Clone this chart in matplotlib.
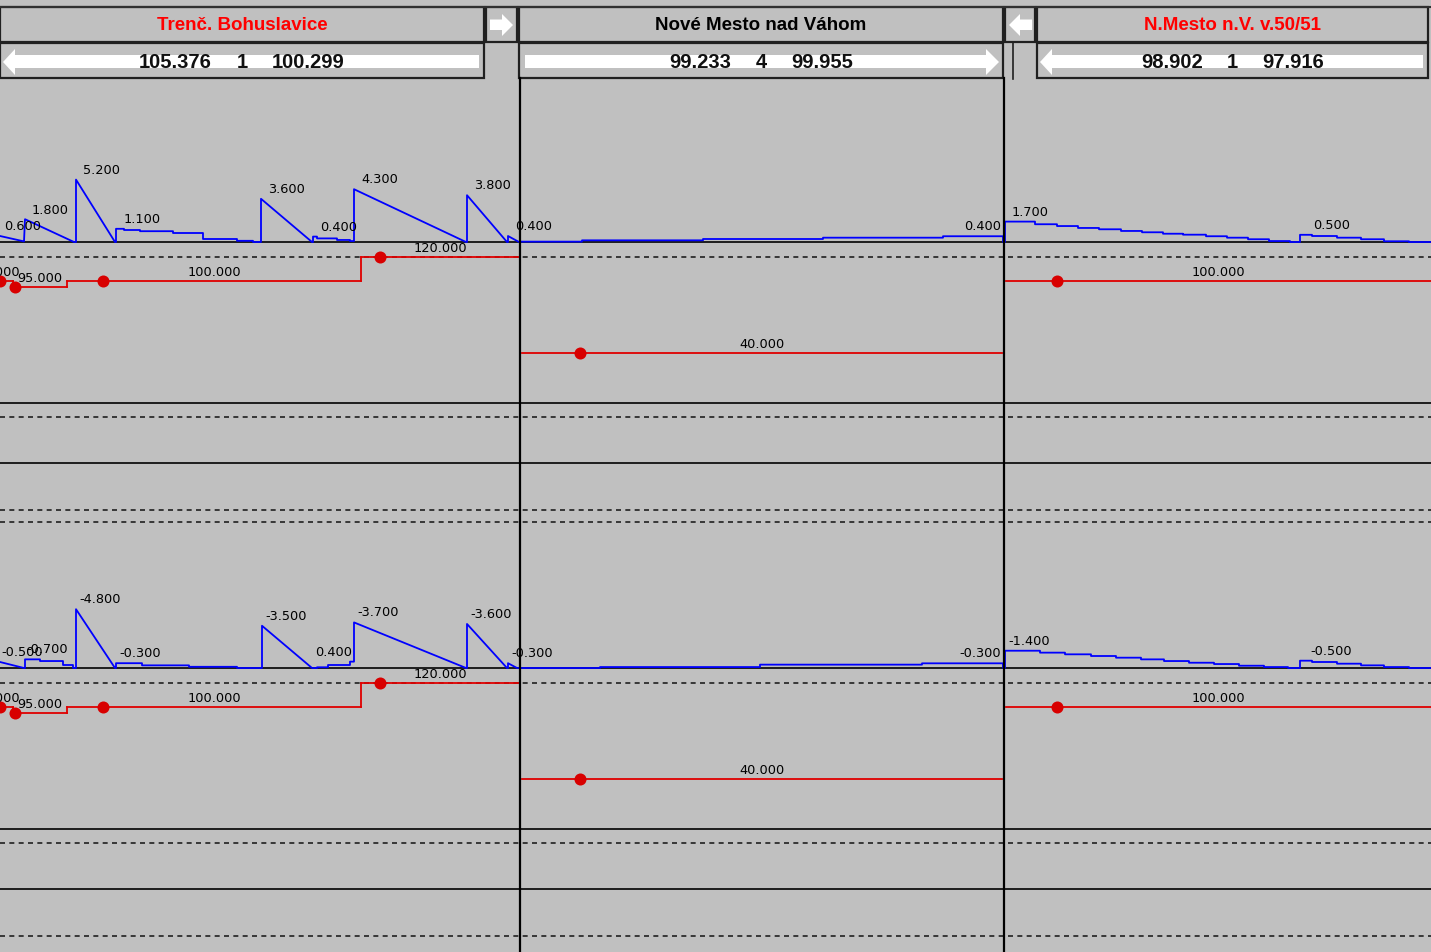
import matplotlib
matplotlib.use('Agg')
import matplotlib.pyplot as plt
from matplotlib.patches import Rectangle, Polygon
from matplotlib.transforms import Affine2D

# header: stations and km / track rows
stations = ['Trenč. Bohuslavice', 'Nové Mesto nad Váhom', 'N.Mesto n.V. v.50/51']
station_colors = ['#ff0000', '#000000', '#ff0000']
km_from = ['105.376', '99.233', '98.902']
track_no = ['1', '4', '1']
km_to = ['100.299', '99.955', '97.916']
arrow_dir = ['left', 'right', 'left']

# gradient profile, upper panel: pieces of (x, value), "s" = steps (edges, values)
up_pieces = [
    ('l', [0, 24, 25, 74, 76, 76, 115, 116], [0.5, 0.05, 1.9, 0, 0, 5.2, 0, 0]),
    ('s', [116, 124, 140, 173, 203, 237, 253, 261], [1.1, 1.0, 0.9, 0.75, 0.25, 0.1, 0]),
    ('l', [261, 261, 312, 313], [0, 3.6, 0, 0]),
    ('s', [313, 317, 337, 350, 354], [0.45, 0.3, 0.17, 0.08]),
    ('l', [354, 354, 466, 467, 467, 507, 508, 508, 519, 520], [0.08, 4.4, 0, 0, 3.9, 0, 0, 0.5, 0, 0]),
    ('s', [520, 582, 703, 823, 943, 1003], [0.03, 0.14, 0.25, 0.36, 0.48]),
    ('l', [1003, 1005], [0, 0]),
    ('s', [1005, 1035, 1057, 1078, 1099, 1121, 1142, 1163, 1183, 1206, 1227, 1248, 1269,
           1290, 1300, 1312, 1337, 1361, 1384, 1409, 1431],
     [1.7, 1.48, 1.33, 1.17, 1.06, 0.92, 0.81, 0.69, 0.61, 0.48, 0.36, 0.23, 0.08, 0,
      0.6, 0.5, 0.36, 0.23, 0.06, 0]),
]
up_lab_txt = ['0.600', '1.800', '5.200', '1.100', '3.600', '0.400', '4.300', '3.800',
              '0.400', '0.400', '1.700', '0.500']
up_lab_x = [-3, 25, 76, 117, 261, 313, 354, 467, 508, 1003, 1005, 1306]
up_lab_v = [0.5, 1.8, 5.2, 1.1, 3.6, 0.45, 4.4, 3.9, 0.5, 0.48, 1.7, 0.6]

# gradient profile, lower panel
lo_pieces = [
    ('l', [0, 24, 25], [0.5, 0, 0]),
    ('s', [25, 40, 63, 73], [0.72, 0.58, 0.25]),
    ('l', [73, 76, 76, 115, 116], [0, 0, 4.9, 0, 0]),
    ('s', [116, 142, 189, 237, 262], [0.4, 0.22, 0.1, 0]),
    ('l', [262, 262, 312], [0, 3.52, 0]),
    ('s', [312, 317, 328, 350, 354], [0, 0.06, 0.25, 0.53]),
    ('l', [354, 354, 466, 467, 467, 507, 508, 508, 517, 520], [0.53, 3.8, 0, 0, 3.67, 0, 0, 0.4, 0, 0]),
    ('s', [520, 600, 760, 922, 1003], [0, 0.08, 0.28, 0.39]),
    ('l', [1003, 1005], [0, 0]),
    ('s', [1005, 1040, 1065, 1091, 1116, 1141, 1164, 1189, 1214, 1239, 1264, 1288,
           1300, 1312, 1337, 1361, 1384, 1409, 1431],
     [1.44, 1.28, 1.14, 1.0, 0.86, 0.72, 0.58, 0.44, 0.33, 0.19, 0.08, 0,
      0.61, 0.5, 0.36, 0.22, 0.08, 0]),
]
lo_lab_txt = ['-0.500', '-0.700', '-4.800', '-0.300', '-3.500', '0.400', '-3.700', '-3.600',
              '-0.300', '-0.300', '-1.400', '-0.500']
lo_lab_x = [-2, 23, 76, 116, 262, 312, 354, 467, 508, 1003, 1005, 1307]
lo_lab_v = [0.5, 0.72, 4.9, 0.4, 3.52, 0.53, 3.8, 3.67, 0.4, 0.39, 1.44, 0.61]

# speed profile (same in both panels)
sp_start = [-26, 13, 67, 361, 522, 1006]
sp_end = [13, 67, 361, 520, 1002, 1431]
sp_val = [100, 95, 100, 120, 40, 100]
dot_x = [0, 15, 103, 380, 580, 1057]
dot_v = [100, 95, 100, 120, 40, 100]

BG = '#c0c0c0'
BLUE = '#0000ff'
RED = '#e00000'
SMALL = dict(family='DejaVu Sans', fontsize=9.3, color='#000000')


def expand(pieces):
    xs, vs = [], []
    for kind, a, b in pieces:
        if kind == 'l':
            xs += a
            vs += b
        else:
            for i, v in enumerate(b):
                xs += [a[i], a[i + 1]]
                vs += [v, v]
    return xs, vs


fig = plt.figure(figsize=(14.31, 9.52), dpi=100)
fig.patch.set_facecolor(BG)
ax = fig.add_axes([0, 0, 1, 1])
ax.set_facecolor(BG)
ax.set_xlim(0, 1431)
ax.set_ylim(952, 0)
ax.axis('off')

# header
ax.plot([0, 1431], [7, 7], color='#303030', lw=1.5)
boxes = [(0, 484), (519, 1003), (1037, 1428)]
for i, (x0, x1) in enumerate(boxes):
    c = (x0 + x1) / 2
    ax.add_patch(Rectangle((x0, 7), x1 - x0, 35, fc=BG, ec='#202020', lw=1.6))
    ax.add_patch(Rectangle((x0, 43), x1 - x0, 35, fc=BG, ec='#202020', lw=1.6))
    ax.text(c, 25, stations[i], ha='center', va='center', color=station_colors[i],
            family='Liberation Sans', fontweight='bold', fontsize=13.5)
    if arrow_dir[i] == 'left':
        tip, hb, tail = x0 + 3, x0 + 15, x1 - 5
    else:
        tip, hb, tail = x1 - 4, x1 - 17, x0 + 6
    ax.add_patch(Polygon([(tail, 55), (hb, 55), (hb, 49), (tip, 62), (hb, 75), (hb, 68), (tail, 68)],
                         closed=True, fc='white', ec='none'))
    num = dict(va='center', family='Liberation Sans', fontweight='bold', fontsize=14.5, color='#101010')
    ax.text(c - 30, 62, km_from[i], ha='right', **num)
    ax.text(c, 62, track_no[i], ha='center', **num)
    ax.text(c + 30, 62, km_to[i], ha='left', **num)

# small arrow buttons in header
for x0, x1, d in [(486, 517, 'right'), (1005, 1035, 'left')]:
    ax.add_patch(Rectangle((x0, 7), x1 - x0, 35, fc=BG, ec='#202020', lw=1.6))
    if d == 'right':
        tip, hb, tail = x1 - 4, x1 - 15, x0 + 4
    else:
        tip, hb, tail = x0 + 4, x0 + 15, x1 - 3
    ax.add_patch(Polygon([(tail, 19.5), (hb, 19.5), (hb, 14), (tip, 25), (hb, 36), (hb, 30), (tail, 30)],
                         closed=True, fc='white', ec='none'))
ax.plot([1013, 1013], [43, 79], color='#202020', lw=1.2)

profiles = [(up_pieces, up_lab_txt, up_lab_x, up_lab_v, 7),
            (lo_pieces, lo_lab_txt, lo_lab_x, lo_lab_v, 3)]

for k, off in enumerate([0, 426]):
    grad_tr = Affine2D().scale(1, -12).translate(0, 242 + off) + ax.transData
    speed_tr = Affine2D().scale(1, -1.2).translate(0, 401 + off) + ax.transData

    # frame lines of the panel
    for y in [242, 403, 463]:
        ax.plot([0, 1431], [y + off, y + off], color='#101010', lw=1.3, zorder=1)
    for y in [257, 417, 510, 522]:
        if y + off < 945:
            ax.plot([0, 1431], [y + off, y + off], color='#202020', lw=1.2,
                    dashes=(3, 2.6), zorder=1)

    # gradient profile
    pieces, ltxt, lx, lv, dx = profiles[k]
    xs, vs = expand(pieces)
    ax.plot(xs, vs, color=BLUE, lw=1.3, transform=grad_tr, zorder=3)
    for t, x, v in zip(ltxt, lx, lv):
        right = x == 1003
        ax.annotate(t, (x, v), xycoords=grad_tr, xytext=(-2 if right else dx, 9.5),
                    textcoords='offset pixels', ha='right' if right else 'left',
                    va='center', zorder=5, **SMALL)

    # speed profile
    for i in range(len(sp_val)):
        ax.plot([sp_start[i], sp_end[i]], [sp_val[i], sp_val[i]], color=RED, lw=1.3,
                transform=speed_tr, zorder=3)
        if i + 1 < len(sp_val) and sp_end[i] == sp_start[i + 1]:
            ax.plot([sp_end[i], sp_end[i]], [sp_val[i], sp_val[i + 1]], color=RED, lw=1.3,
                    transform=speed_tr, zorder=3)
        ax.annotate(f'{sp_val[i]:.3f}', ((sp_start[i] + sp_end[i]) / 2, sp_val[i]),
                    xycoords=speed_tr, xytext=(0, 9), textcoords='offset pixels',
                    ha='center', va='center', zorder=5, **SMALL)
    ax.scatter(dot_x, dot_v, s=75, color='#d80000', transform=speed_tr, zorder=4,
               linewidths=0)

# station boundaries
for x in [520, 1004]:
    ax.plot([x, x], [78, 952], color='#000000', lw=1.6, zorder=6)

fig.savefig('out.png', dpi=100, facecolor=BG)
